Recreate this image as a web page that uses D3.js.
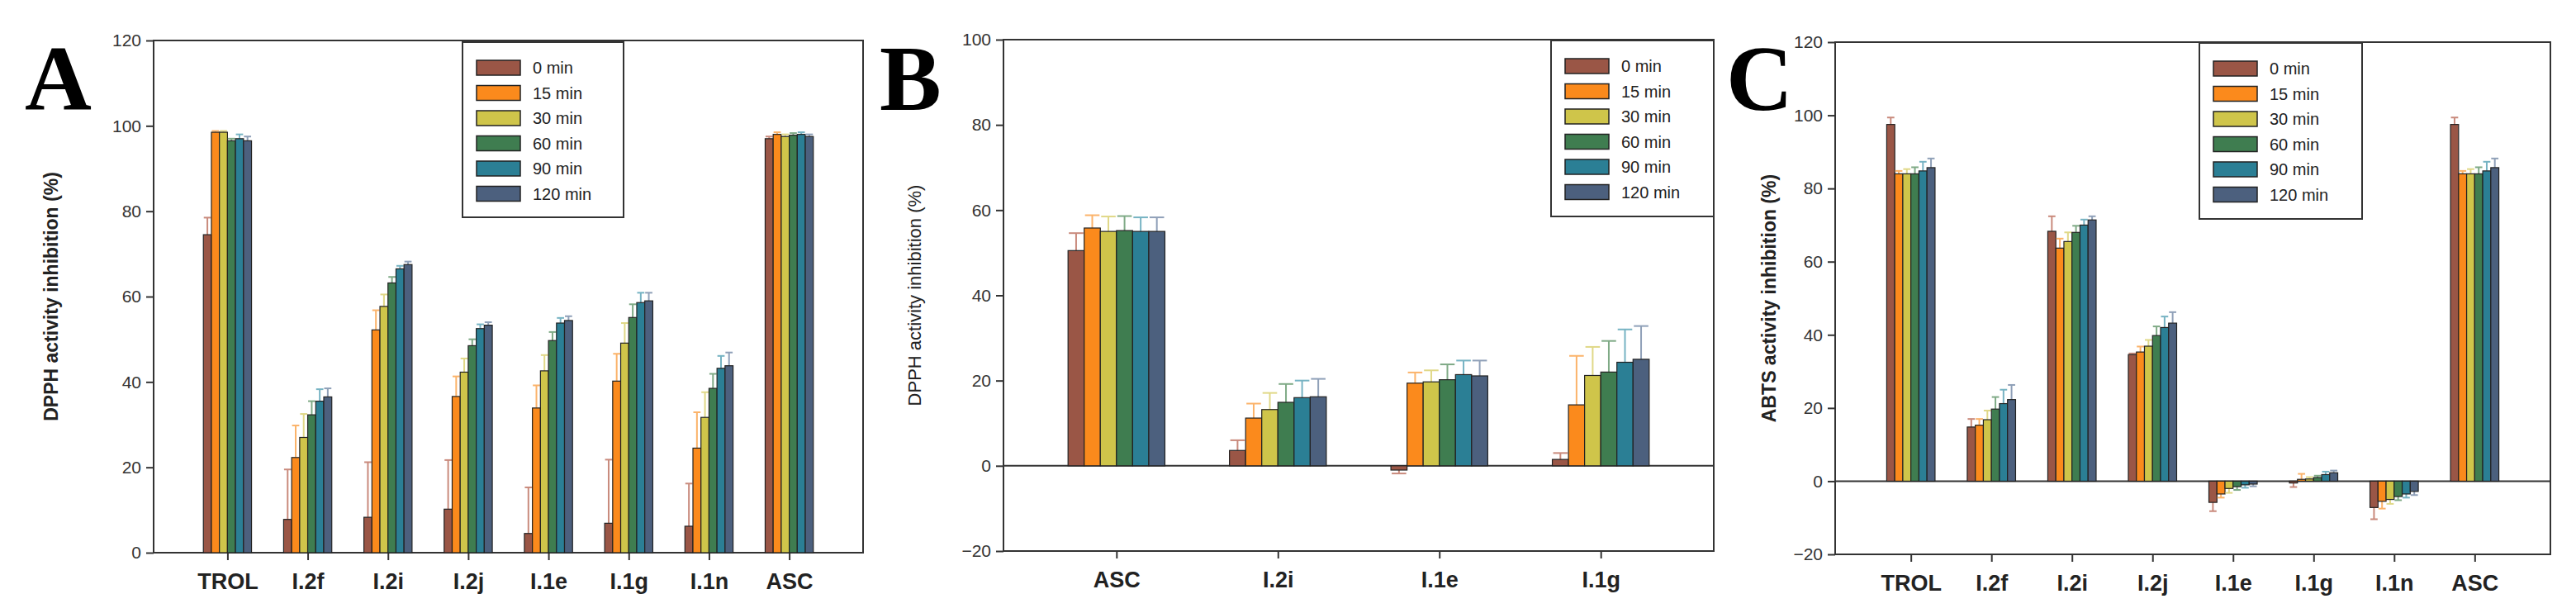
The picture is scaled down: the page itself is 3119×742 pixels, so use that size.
<!DOCTYPE html>
<html><head><meta charset="utf-8">
<script src="https://cdn.jsdelivr.net/npm/d3@7"></script>
<style>body{margin:0;background:#fff}</style></head>
<body><svg id="c" width="3119" height="742"></svg>
<script>
const series = ["0 min","15 min","30 min","60 min","90 min","120 min"];
const colors = ["#9a5646","#fb8a1c","#cfc54a","#3f7d50","#2b7f95","#4c607e"];
const errColors = ["#c98a7c","#fbb36a","#e0d887","#7faa86","#76b3c3","#8fa0b8"];

const catsA = ["TROL","I.2f","I.2i","I.2j","I.1e","I.1g","I.1n","ASC"];
const valsA = [
 [74.5,98.5,98.5,96.5,97,96.5],[7.8,22.3,27,32.3,35.5,36.5],[8.3,52.2,57.7,63.2,66.5,67.5],
 [10.2,36.6,42.3,48.5,52.5,53.3],[4.5,33.9,42.6,49.7,53.8,54.4],[6.9,40.2,49.1,55.1,58.6,59],
 [6.2,24.5,31.7,38.5,43.2,43.8],[97,98,97.5,97.8,98,97.5]];
const errA = [
 [4,0.3,0.3,0.5,1,1],[11.7,7.5,5.5,3.2,2.8,2],[12.9,4.6,2.8,1.4,0.7,0.7],
 [11.5,4.7,3.2,1.5,1,0.7],[10.8,5.3,3.7,2,1.2,1],[14.9,6.4,4.7,3.1,2.3,1.9],
 [10,8.4,5.9,3.4,2.9,3.1],[0.5,0.5,0.5,0.5,0.5,0.5]];
const ticksA = [0,20,40,60,80,100,120];

const catsB = ["ASC","I.2i","I.1e","I.1g"];
const valsB = [[50.5,55.8,55,55.2,55,55],[3.6,11.2,13.2,14.9,16,16.2],
 [-1,19.4,19.7,20.2,21.4,21.1],[1.5,14.3,21.2,22,24.3,25]];
const errB = [[4.1,3,3.5,3.4,3.3,3.3],[2.4,3.4,3.9,4.3,4,4.2],
 [0.8,2.5,2.7,3.6,3.3,3.6],[1.5,11.5,6.7,7.3,7.7,7.8]];
const ticksB = [-20,0,20,40,60,80,100];

const catsC = ["TROL","I.2f","I.2i","I.2j","I.1e","I.1g","I.1n","ASC"];
const valsC = [
 [97.5,84,84,84,84.8,85.7],[14.8,15.3,16.8,19.7,21.2,22.3],[68.3,63.7,65.5,68,70,71.4],
 [34.6,35.3,36.9,39.8,42,43.2],[-5.8,-3.5,-2,-1.5,-1,-0.8],[-0.5,0.5,0.6,1,1.8,2.3],
 [-7.2,-5.5,-5,-4.2,-3.5,-2.8],[97.5,84,84,84,84.8,85.7]];
const errC = [
 [1.9,0.8,1.3,1.8,2.5,2.5],[2.2,1.7,2.5,3.3,3.8,4],[4.1,2.6,2.5,1.8,1.5,1],
 [0.3,1.5,1.7,2.5,3,3],[2.4,1,1.2,0.9,0.8,0.6],[1.1,1.5,0.5,0.5,0.8,0.6],
 [3.2,2,1.2,1,1,1],[1.9,0.8,1.3,1.8,2.5,2.5]];
const ticksC = [-20,0,20,40,60,80,100,120];

const svg = d3.select("#c");
const panels = [
 {letter:"A",lx:30,cats:catsA,vals:valsA,err:errA,ticks:ticksA,dom:[0,120],x0:186,x1:1045,y0:669,y1:49,pad:0.92,
  ylabel:"DPPH activity inhibition (%)",yb:true,ylx:70,leg:[560,51,195,212],zero:false},
 {letter:"B",lx:1065,cats:catsB,vals:valsB,err:errB,ticks:ticksB,dom:[-20,100],x0:1215,x1:2075,y0:667,y1:48,pad:0.7,
  ylabel:"DPPH activity inhibition (%)",yb:false,ylx:1115,leg:[1878,49,197,213],zero:true},
 {letter:"C",lx:2090,cats:catsC,vals:valsC,err:errC,ticks:ticksC,dom:[-20,120],x0:2222,x1:3088,y0:671,y1:51,pad:0.94,
  ylabel:"ABTS activity inhibition (%)",yb:true,ylx:2150,leg:[2663,52,197,213],zero:true}
];

panels.forEach(p=>{
  const g = svg.append("g");
  const y = d3.scaleLinear().domain(p.dom).range([p.y0,p.y1]);
  const x = d3.scalePoint().domain(p.cats).range([p.x0,p.x1]).padding(p.pad);
  const gw = x.step()*0.6, bw = gw/6;
  // frame
  g.append("rect").attr("x",p.x0).attr("y",p.y1).attr("width",p.x1-p.x0).attr("height",p.y0-p.y1)
   .attr("fill","none").attr("stroke","#333").attr("stroke-width",2);
  const ya = g.append("g").attr("transform",`translate(${p.x0},0)`)
   .call(d3.axisLeft(y).tickValues(p.ticks).tickSize(9).tickPadding(6));
  ya.select(".domain").remove();
  ya.selectAll("line").attr("stroke","#333").attr("stroke-width",2);
  ya.selectAll("text").attr("font-family","Liberation Sans, Arial").attr("font-size",21).attr("fill","#333");
  const xa = g.append("g").attr("transform",`translate(0,${p.y0})`)
   .call(d3.axisBottom(x).tickSize(9).tickPadding(16));
  xa.select(".domain").remove();
  xa.selectAll("line").attr("stroke","#333").attr("stroke-width",2);
  xa.selectAll("text").attr("font-family","Liberation Sans, Arial").attr("font-size",27)
    .attr("font-weight","bold").attr("fill","#222");
  if(p.zero) g.append("line").attr("x1",p.x0).attr("x2",p.x1).attr("y1",y(0)).attr("y2",y(0))
    .attr("stroke","#333").attr("stroke-width",2);
  p.cats.forEach((c,ci)=>{
    p.vals[ci].forEach((v,si)=>{
      const bx = x(c)-gw/2+si*bw;
      const e = p.err[ci][si], tip = v>=0? v+e : v-e;
      const ex = bx+bw/2;
      g.append("line").attr("x1",ex).attr("x2",ex).attr("y1",y(v)).attr("y2",y(tip))
       .attr("stroke",errColors[si]).attr("stroke-width",2);
      g.append("line").attr("x1",ex-bw*0.45).attr("x2",ex+bw*0.45).attr("y1",y(tip)).attr("y2",y(tip))
       .attr("stroke",errColors[si]).attr("stroke-width",2);
      g.append("rect").attr("x",bx).attr("width",bw)
       .attr("y",Math.min(y(v),y(0))).attr("height",Math.abs(y(v)-y(0)))
       .attr("fill",colors[si]).attr("stroke","#222").attr("stroke-width",1.2);
    });
  });
  // y label
  g.append("text").attr("transform",`translate(${p.ylx},${(p.y0+p.y1)/2}) rotate(-90)`)
   .attr("text-anchor","middle").attr("font-family","Liberation Sans, Arial")
   .attr("font-size",p.yb?23:22).attr("font-weight",p.yb?"bold":"normal").attr("fill","#222").text(p.ylabel);
  // letter
  g.append("text").attr("x",p.lx).attr("y",133).attr("font-family","Liberation Serif, Times New Roman")
   .attr("font-weight","bold").attr("font-size",112).attr("fill","#000").text(p.letter);
  // legend
  const [lx,ly,lw,lh] = p.leg;
  g.append("rect").attr("x",lx).attr("y",ly).attr("width",lw).attr("height",lh)
   .attr("fill","#fff").attr("stroke","#333").attr("stroke-width",2);
  series.forEach((s,i)=>{
    const ry = ly+22+i*30.5;
    g.append("rect").attr("x",lx+17).attr("y",ry).attr("width",53).attr("height",18)
     .attr("fill",colors[i]).attr("stroke","#222").attr("stroke-width",1.5);
    g.append("text").attr("x",lx+85).attr("y",ry+16).attr("font-family","Liberation Sans, Arial")
     .attr("font-size",20).attr("fill","#222").text(s);
  });
});
</script></body></html>
